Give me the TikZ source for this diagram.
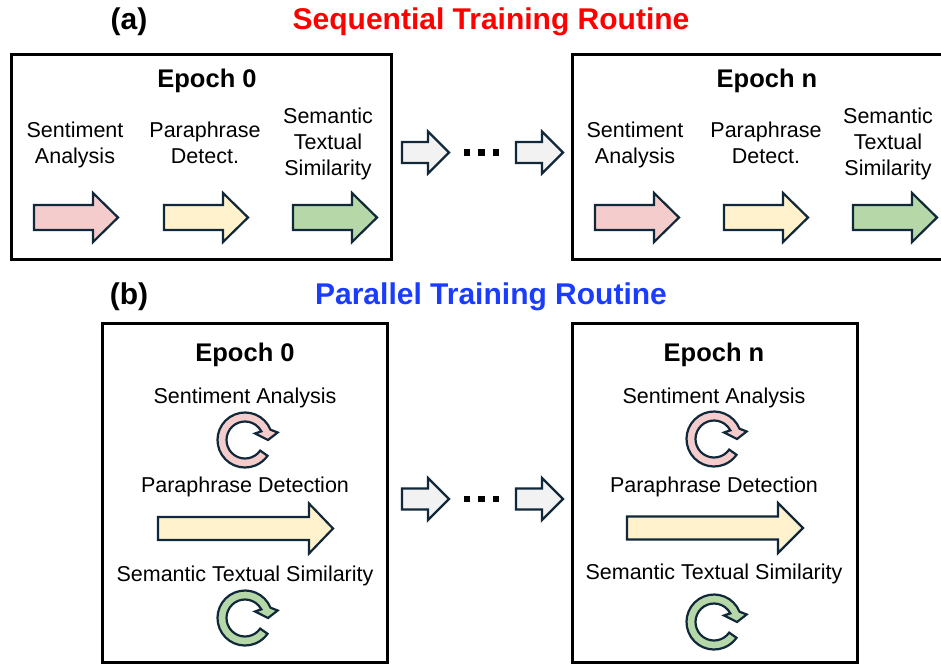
\documentclass[tikz,border=0pt]{standalone}
\usepackage{fontspec}
\setmainfont{Liberation Sans}

\definecolor{edge}{HTML}{10283A}
\definecolor{pinkf}{HTML}{F4CCCC}
\definecolor{yellowf}{HTML}{FFF2CC}
\definecolor{greenf}{HTML}{B6D7A8}
\definecolor{grayf}{HTML}{F2F2F2}
\definecolor{titlered}{HTML}{FF0000}
\definecolor{titleblue}{HTML}{1A3CFF}

\tikzset{
  panel/.style={draw=black,line width=3pt},
  blockarrow/.style={draw=edge,line width=2.2pt,line join=miter},
  bodytext/.style={font=\fontsize{21.5}{26}\selectfont,align=center,inner sep=0pt,anchor=base},
  epochlabel/.style={font=\fontsize{25.5}{30}\selectfont\bfseries,inner sep=0pt,anchor=base},
  heading/.style={font=\fontsize{30}{34}\selectfont\bfseries,inner sep=0pt,anchor=base},
  dotmark/.style={fill=black,minimum size=6.5pt,inner sep=0pt,draw=none},
}

% straight block arrow: tail x, tip x, head base x, centre y, half shaft, half head, fill
\newcommand\flatarrow[7]{%
  \draw[blockarrow,fill=#7] (#1,#4+#5) -- (#3,#4+#5) -- (#3,#4+#6) -- (#2,#4)
    -- (#3,#4-#6) -- (#3,#4-#5) -- (#1,#4-#5) -- cycle;}

% clockwise circular block arrow around a centre
\newcommand\looparrow[3]{%
  \begin{scope}[shift={(#1,#2)}]
    \draw[blockarrow,fill=#3] (22:27.5) arc[start angle=22,end angle=325,radius=27.5]
      -- (325:18.5) arc[start angle=325,end angle=28,radius=18.5]
      -- (33:12) -- (0:23) -- (13:33.5) -- cycle;
  \end{scope}}

\begin{document}
\begin{tikzpicture}[x=1pt,y=1pt]
\clip (0,0) rectangle (941,-664);
\fill[white] (0,0) rectangle (941,-664);

% ---------- (a) sequential ----------
\node[heading] (tagA) at (129,-29) {(a)};
\node[heading,text=titlered] (titleA) at (491,-29) {Sequential Training Routine};

\draw[panel] (11.5,-54.5) rectangle (391,-259);
\draw[panel] (572,-54.5) rectangle (960,-259);

\node[epochlabel] (ea0) at (207,-87) {Epoch 0};
\node[epochlabel] (ean) at (767,-87) {Epoch n};

% multi-line labels are placed by the baseline of their last line
\node[bodytext] (sa0) at (75,-163) {Sentiment\\Analysis};
\node[bodytext] (pd0) at (205,-163) {Paraphrase\\Detect.};
\node[bodytext] (st0) at (328,-175.5) {Semantic\\Textual\\Similarity};
\node[bodytext] (san) at (635,-163) {Sentiment\\Analysis};
\node[bodytext] (pdn) at (766,-163) {Paraphrase\\Detect.};
\node[bodytext] (stn) at (888,-175.5) {Semantic\\Textual\\Similarity};

\flatarrow{34}{118}{93}{-217.5}{12.5}{24.5}{pinkf}
\flatarrow{164}{248}{223}{-217.5}{12.5}{24.5}{yellowf}
\flatarrow{293}{377}{352}{-217.5}{12.5}{24.5}{greenf}
\flatarrow{595}{679}{654}{-217.5}{12.5}{24.5}{pinkf}
\flatarrow{724}{808}{783}{-217.5}{12.5}{24.5}{yellowf}
\flatarrow{853}{937}{912}{-217.5}{12.5}{24.5}{greenf}

\flatarrow{402}{449}{428}{-152.5}{10.5}{21}{grayf}
\node[dotmark] (da1) at (467,-152.5) {};
\node[dotmark] (da2) at (481.5,-152.5) {};
\node[dotmark] (da3) at (496,-152.5) {};
\flatarrow{516}{563}{542}{-152.5}{10.5}{21}{grayf}

% ---------- (b) parallel ----------
\node[heading] (tagB) at (129,-304) {(b)};
\node[heading,text=titleblue] (titleB) at (491,-304) {Parallel Training Routine};

\draw[panel] (102.5,-323) rectangle (387.5,-662);
\draw[panel] (572,-323) rectangle (857.5,-662);

\node[epochlabel] (eb0) at (245,-361) {Epoch 0};
\node[epochlabel] (ebn) at (714,-361) {Epoch n};

\node[bodytext] (sb0) at (245,-403) {Sentiment Analysis};
\looparrow{245}{-440}{pinkf}
\node[bodytext] (pb0) at (245,-492) {Paraphrase Detection};
\flatarrow{158}{333}{309}{-528.5}{11.5}{25}{yellowf}
\node[bodytext] (tb0) at (245,-581) {Semantic Textual Similarity};
\looparrow{245}{-618}{greenf}

\node[bodytext] (sbn) at (714,-403) {Sentiment Analysis};
\looparrow{714}{-439}{pinkf}
\node[bodytext] (pbn) at (714,-492.5) {Paraphrase Detection};
\flatarrow{627}{803}{778}{-528}{11.5}{25}{yellowf}
\node[bodytext] (tbn) at (714,-579) {Semantic Textual Similarity};
\looparrow{714}{-622}{greenf}

\flatarrow{402}{449}{428}{-499}{10.5}{21}{grayf}
\node[dotmark] (db1) at (467,-499) {};
\node[dotmark] (db2) at (481.5,-499) {};
\node[dotmark] (db3) at (496,-499) {};
\flatarrow{516}{563}{542}{-499}{10.5}{21}{grayf}
\end{tikzpicture}
\end{document}
